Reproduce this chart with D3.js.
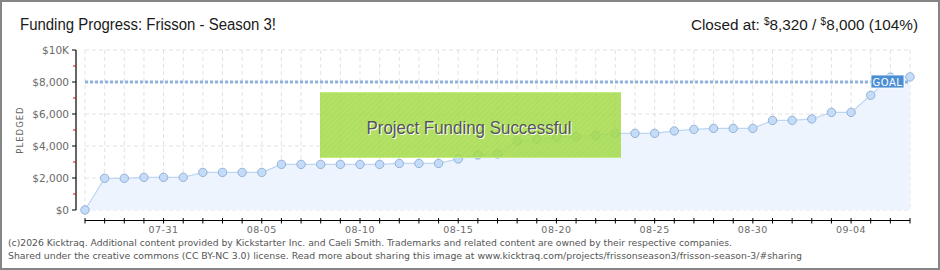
<!DOCTYPE html>
<html><head><meta charset="utf-8">
<script src="https://cdn.jsdelivr.net/npm/d3@7"></script>
<style>body{margin:0;background:#fff}svg{display:block}</style>
</head><body>
<svg id="c" width="940" height="270"></svg>
<script>
const dates = ["07-27","07-28","07-29","07-30","07-31","08-01","08-02","08-03","08-04","08-05","08-06","08-07","08-08","08-09","08-10","08-11","08-12","08-13","08-14","08-15","08-16","08-17","08-18","08-19","08-20","08-21","08-22","08-23","08-24","08-25","08-26","08-27","08-28","08-29","08-30","08-31","09-01","09-02","09-03","09-04","09-05","09-06","09-07"];
const pledged = [0,1980,1980,2040,2040,2040,2350,2350,2350,2350,2850,2850,2850,2850,2850,2850,2910,2910,2910,3190,3440,3500,4310,4420,4560,4600,4670,4790,4790,4790,4940,5040,5100,5100,5100,5600,5600,5690,6100,6100,7170,8300,8320];
const goal = 8000;
const yTicks = [0,2000,4000,6000,8000,10000];
const yTickLabels = ["$0","$2,000","$4,000","$6,000","$8,000","$10K"];
const yMinor = [1000,3000,5000,7000,9000];
const xLabelDates = ["07-31","08-05","08-10","08-15","08-20","08-25","08-30","09-04"];

const svg = d3.select("#c");
const x = d3.scalePoint().domain(dates).range([85, 910]);
const y = d3.scaleLinear().domain([0, 10000]).range([210, 50]);

// border
svg.append("rect").attr("x",1).attr("y",1).attr("width",938).attr("height",268)
  .attr("fill","#fff").attr("stroke","#858585").attr("stroke-width",2);

// grid
const g = svg.append("g");
g.selectAll(".vg").data(dates).join("line")
  .attr("x1",d=>x(d)).attr("x2",d=>x(d)).attr("y1",50).attr("y2",210)
  .attr("stroke","#e2e2e2").attr("stroke-dasharray","4,3");
g.selectAll(".hg").data(yTicks).join("line")
  .attr("x1",85).attr("x2",910).attr("y1",d=>y(d)).attr("y2",d=>y(d))
  .attr("stroke","#e2e2e2").attr("stroke-dasharray","4,3");

// area + line
const pts = dates.map((d,i)=>({d, v: pledged[i]}));
svg.append("path").datum(pts)
  .attr("d", d3.area().x(p=>x(p.d)).y0(y(0)).y1(p=>y(p.v)))
  .attr("fill","#edf4fd");
svg.append("path").datum(pts)
  .attr("d", d3.line().x(p=>x(p.d)).y(p=>y(p.v)))
  .attr("fill","none").attr("stroke","#bcd6f4").attr("stroke-width",1.2);

// goal line
svg.append("line").attr("x1",85).attr("x2",910).attr("y1",y(goal)).attr("y2",y(goal))
  .attr("stroke","#8fb2de").attr("stroke-width",3).attr("stroke-dasharray","3,2");

// points
svg.selectAll(".pt").data(pts).join("circle")
  .attr("cx",p=>x(p.d)).attr("cy",p=>y(p.v)).attr("r",4.2)
  .attr("fill","#c4dcf7").attr("stroke","#92b2d8").attr("stroke-width",1);

// GOAL label
svg.append("rect").attr("x",871).attr("y",75).attr("width",33).attr("height",13)
  .attr("fill","#4a8ed6").attr("stroke","#ffffff").attr("stroke-width",0.8);
svg.append("text").attr("x",887.5).attr("y",85.5).attr("text-anchor","middle")
  .attr("font-family","DejaVu Sans").attr("font-size",10).attr("fill","#fff")
  .attr("letter-spacing",0.5).text("GOAL");

// success box
const defs = svg.append("defs");
const pat = defs.append("pattern").attr("id","hatch").attr("patternUnits","userSpaceOnUse")
  .attr("width",4).attr("height",4).attr("patternTransform","rotate(45)");
pat.append("rect").attr("width",4).attr("height",4).attr("fill","#a6dc4c");
pat.append("line").attr("x1",0).attr("y1",0).attr("x2",0).attr("y2",4)
  .attr("stroke","#9ed442").attr("stroke-width",1.5);
svg.append("rect").attr("x",320).attr("y",92).attr("width",301).attr("height",66)
  .attr("fill","url(#hatch)").attr("opacity",0.86);
svg.append("line").attr("x1",320).attr("x2",621).attr("y1",92.5).attr("y2",92.5)
  .attr("stroke","#c4ec84").attr("stroke-width",1);
svg.append("line").attr("x1",320).attr("x2",621).attr("y1",157.5).attr("y2",157.5)
  .attr("stroke","#c4ec84").attr("stroke-width",1);
svg.append("text").attr("x",469).attr("y",134).attr("text-anchor","middle")
  .attr("font-family","Liberation Sans Narrow, Liberation Sans, sans-serif").attr("font-size",19)
  .attr("fill","#fff").attr("textLength",205).attr("lengthAdjust","spacingAndGlyphs")
  .text("Project Funding Successful").attr("transform","translate(1,1)");
svg.append("text").attr("x",469).attr("y",134).attr("text-anchor","middle")
  .attr("font-family","Liberation Sans Narrow, Liberation Sans, sans-serif").attr("font-size",19)
  .attr("fill","#555").attr("textLength",205).attr("lengthAdjust","spacingAndGlyphs")
  .text("Project Funding Successful");

// y axis
svg.append("line").attr("x1",76).attr("x2",76).attr("y1",50).attr("y2",210)
  .attr("stroke","#000").attr("stroke-width",1.2);
svg.selectAll(".yt").data(yTicks).join("line")
  .attr("x1",72).attr("x2",76).attr("y1",d=>y(d)).attr("y2",d=>y(d)).attr("stroke","#000");
svg.selectAll(".ym").data(yMinor).join("line")
  .attr("x1",73).attr("x2",76).attr("y1",d=>y(d)).attr("y2",d=>y(d)).attr("stroke","#e00000");
svg.selectAll(".yl").data(yTicks).join("text")
  .attr("x",69).attr("y",d=>y(d)+4).attr("text-anchor","end")
  .attr("font-family","DejaVu Sans").attr("font-size",10.5).attr("fill","#6a6a6a")
  .text((d,i)=>yTickLabels[i]);
svg.append("text").attr("transform","translate(23,130) rotate(-90)").attr("text-anchor","middle")
  .attr("font-family","DejaVu Sans").attr("font-size",8.5).attr("fill","#666")
  .attr("letter-spacing",1).text("PLEDGED");

// x axis
svg.append("line").attr("x1",85).attr("x2",910).attr("y1",220.5).attr("y2",220.5)
  .attr("stroke","#000").attr("stroke-width",1);
svg.selectAll(".xt").data(dates).join("line")
  .attr("x1",d=>x(d)).attr("x2",d=>x(d)).attr("y1",218).attr("y2",223.5).attr("stroke","#000");
svg.selectAll(".xl").data(xLabelDates).join("text")
  .attr("x",d=>x(d)).attr("y",233).attr("text-anchor","middle")
  .attr("font-family","DejaVu Sans").attr("font-size",9.5).attr("fill","#6a6a6a")
  .attr("letter-spacing",0.5).text(d=>d);

// title
svg.append("text").attr("x",20).attr("y",30)
  .attr("font-family","Liberation Sans Narrow, Liberation Sans, sans-serif").attr("font-size",16)
  .attr("fill","#1a1a1a").attr("textLength",256).attr("lengthAdjust","spacingAndGlyphs")
  .text("Funding Progress: Frisson - Season 3!");

// closed at
const ct = svg.append("text").attr("x",918).attr("y",30).attr("text-anchor","end")
  .attr("font-family","Liberation Sans Narrow, Liberation Sans, sans-serif").attr("font-size",15.3)
  .attr("fill","#1a1a1a");
ct.append("tspan").text("Closed at:  ");
ct.append("tspan").attr("font-size",10).attr("dy",-5).text("$");
ct.append("tspan").attr("dy",5).text("8,320 /  ");
ct.append("tspan").attr("font-size",10).attr("dy",-5).text("$");
ct.append("tspan").attr("dy",5).text("8,000 (104%)");

// footer
svg.append("text").attr("x",8).attr("y",246)
  .attr("font-family","DejaVu Sans").attr("font-size",9).attr("fill","#555")
  .attr("textLength",724).attr("lengthAdjust","spacingAndGlyphs")
  .text("(c)2026 Kicktraq. Additional content provided by Kickstarter Inc. and Caeli Smith. Trademarks and related content are owned by their respective companies.");
svg.append("text").attr("x",8).attr("y",259)
  .attr("font-family","DejaVu Sans").attr("font-size",9).attr("fill","#555")
  .attr("textLength",794).attr("lengthAdjust","spacingAndGlyphs")
  .text("Shared under the creative commons (CC BY-NC 3.0) license. Read more about sharing this image at www.kicktraq.com/projects/frissonseason3/frisson-season-3/#sharing");
</script>
</body></html>
